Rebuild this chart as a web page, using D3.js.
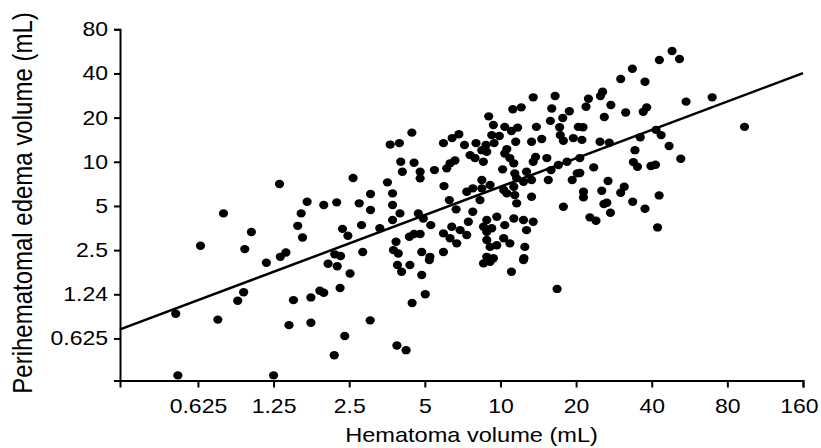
<!DOCTYPE html>
<html>
<head>
<meta charset="utf-8">
<script src="https://cdn.jsdelivr.net/npm/d3@7"></script>
<style>
  body { margin: 0; background: #fff; }
  svg text { font-family: "Liberation Sans", Arial, sans-serif; fill: #000; }
</style>
</head>
<body>
<svg id="chart" width="821" height="448"></svg>
<script>
// hematoma volume (mL)
const hematoma = [
  0.51,0.52,0.64,0.79,0.75,0.90,0.95,0.96,1.02,1.17,
  1.25,1.32,1.33,1.40,1.44,1.50,1.56,1.61,1.63,1.70,
  1.76,1.76,1.91,1.98,1.98,2.06,2.24,2.19,2.31,2.23,
  2.30,2.35,2.47,2.40,2.18,2.52,2.59,
  3.89,4.04,4.36,4.86,5.02,4.45,3.03,3.87,4.21,8.56,9.09,11.06,12.35,16.8,5.21,
  13.5,16.5,11.2,12.1,16.0,18.8,8.98,17.7,15.8,9.37,
  10.4,11.7,13.9,17.2,20.4,9.23,9.90,11.06,17.3,4.44,
  6.83,6.42,5.93,3.64,3.96,7.99,8.76,7.19,11.5,13.3,
  14.6,17.8,19.5,
  48.2,51.6,42.9,33.5,30.1,37.6,25.5,25.0,22.4,21.9,
  27.5,25.9,31.5,38.2,37.0,54.8,69.6,93.6,21.3,41.6,
  43.6,36.0,24.9,27.1,21.1,46.9,52.2,34.3,33.8,35.1,
  39.7,41.4,23.5,20.7,20.7,26.8,31.1,30.1,25.3,21.4,
  21.4,42.8,33.6,25.8,26.5,37.6,27.4,22.7,24.0,42.2,
  4.01,4.53,4.07,4.79,4.79,5.46,6.11,6.30,6.59,7.57,
  7.92,8.82,8.55,10.4,10.9,11.3,10.2,11.4,12.7,13.5,
  13.8,15.3,15.9,17.0,18.4,20.2,19.3,
  3.55,5.96,7.34,7.76,8.43,8.43,9.09,10.3,10.6,11.3,11.6,12.35,13.3,15.5,
  3.04,2.74,3.04,3.72,3.72,3.98,3.72,3.31,2.80,4.71,
  4.93,5.28,6.26,6.66,8.29,7.76,7.45,8.82,9.67,10.4,
  11.6,11.4,13.3,17.8,11.3,12.35,13.5,12.7,
  2.83,3.84,3.75,3.92,4.34,4.53,4.79,4.86,5.24,5.93,
  5.93,6.40,6.30,6.70,6.91,7.34,8.56,8.82,9.23,8.82,
  9.09,9.67,10.3,10.9,8.82,9.37,12.5,12.4,
  8.43,10.6,9.43
];

// perihematomal edema volume (mL), same order
const edema = [
  0.92,0.35,2.68,4.45,0.84,1.13,1.29,2.54,3.32,2.05,
  0.35,7.05,2.25,2.41,0.77,1.14,3.66,4.45,3.05,5.34,
  1.19,0.80,1.32,1.28,5.07,2.02,1.94,2.34,2.28,5.29,
  1.38,3.49,3.13,0.65,0.48,1.73,7.75,
  1.98,1.78,1.98,1.69,1.25,1.09,0.83,0.56,0.52,2.03,2.08,1.78,2.14,1.36,2.14,
  27.5,28.1,22.8,23.5,23.1,22.1,20.4,19.9,19.0,17.8,
  17.3,17.1,17.3,17.2,17.3,15.2,15.0,16.2,15.2,15.8,
  15.4,14.5,13.4,13.1,13.4,13.4,13.0,13.0,13.7,13.7,
  14.3,13.9,14.5,
  56.9,50.2,49.4,43.1,36.7,35.1,30.0,28.1,26.9,23.7,
  24.4,20.2,21.7,23.5,21.9,25.7,27.5,17.3,17.2,16.5,
  15.2,14.7,13.7,13.5,14.1,12.8,10.5,12.0,9.95,9.25,
  9.35,9.54,9.16,10.6,8.38,7.39,6.76,6.15,6.35,6.25,
  5.72,5.90,5.34,5.15,5.26,4.78,4.49,4.18,3.96,3.57,
  10.0,9.85,8.55,8.55,7.71,8.78,9.02,9.76,10.2,11.1,
  10.6,11.7,10.0,11.4,10.6,9.76,8.88,8.34,8.55,10.0,
  10.8,10.6,8.78,9.50,10.0,8.34,7.51,
  7.24,6.83,6.25,6.59,7.51,6.59,6.94,6.42,6.09,6.76,7.71,7.31,7.51,7.51,
  6.03,5.21,4.69,6.09,5.07,4.45,4.01,3.52,3.70,4.45,
  4.11,3.70,5.48,4.74,5.48,4.56,3.90,4.01,4.22,3.70,
  5.21,5.93,5.78,4.94,4.11,4.01,3.90,3.42,
  2.43,2.85,2.50,2.37,3.08,3.22,3.22,2.43,2.25,2.43,
  3.25,3.61,3.01,2.78,3.42,3.17,3.61,3.33,3.52,2.93,
  2.63,2.70,3.01,2.78,2.25,2.20,2.63,2.20,
  12.0,12.2,13.4
];

// regression line end points (mL)
const fitX = [0.306, 160];
const fitY = [0.72, 40.2];

const xTicks = [0.625, 1.25, 2.5, 5, 10, 20, 40, 80, 160];
const xTickLabels = ["0.625", "1.25", "2.5", "5", "10", "20", "40", "80", "160"];
const yTicks = [0.625, 1.25, 2.5, 5, 10, 20, 40, 80];
const yTickLabels = ["0.625", "1.24", "2.5", "5", "10", "20", "40", "80"];

const svg = d3.select("#chart");
const stretch = 1.15; // the source figure is a bit wider than tall

const x = d3.scaleLog().domain([0.306, 160]).range([120, 803]);
const y = d3.scaleLog().domain([0.323, 80]).range([380.5, 29.3]);

// axes
const xAxis = svg.append("g")
  .attr("transform", "translate(0,380.5)")
  .call(d3.axisBottom(x).tickValues(xTicks)
    .tickFormat((d, i) => xTickLabels[i])
    .tickSizeOuter(0).tickSize(7).tickPadding(11));

const yAxis = svg.append("g")
  .attr("transform", "translate(120,0)")
  .call(d3.axisLeft(y).tickValues(yTicks)
    .tickFormat((d, i) => yTickLabels[i])
    .tickSizeOuter(0).tickSize(6).tickPadding(6));

[xAxis, yAxis].forEach(g => {
  g.select(".domain").attr("stroke", "#000").attr("stroke-width", 2);
  g.selectAll(".tick line").attr("stroke", "#000").attr("stroke-width", 2);
  g.selectAll(".tick text")
    .style("font-family", '"Liberation Sans", Arial, sans-serif')
    .style("font-size", "20px")
    .attr("fill", "#000")
    .attr("transform", `scale(${stretch},1)`);
});
yAxis.selectAll(".tick text").attr("x", -12 / stretch);

// last x label sits a little left so it stays inside the figure
xAxis.selectAll(".tick text")
  .filter(d => d === 160)
  .attr("text-anchor", "end")
  .attr("x", 15 / stretch);

// points
svg.append("g")
  .selectAll("ellipse")
  .data(hematoma.map((h, i) => [h, edema[i]]))
  .join("ellipse")
  .attr("cx", d => x(d[0]))
  .attr("cy", d => y(d[1]))
  .attr("rx", 4.6)
  .attr("ry", 4.2)
  .attr("fill", "#000");

// regression line
svg.append("line")
  .attr("x1", x(fitX[0]))
  .attr("y1", y(fitY[0]))
  .attr("x2", x(fitX[1]))
  .attr("y2", y(fitY[1]))
  .attr("stroke", "#000")
  .attr("stroke-width", 2.5);

// axis titles
svg.append("text")
  .attr("transform", `translate(471.5,442) scale(${stretch},1)`)
  .attr("text-anchor", "middle")
  .style("font-size", "20.5px")
  .text("Hematoma volume (mL)");

svg.append("text")
  .attr("transform", `translate(32,203) scale(${stretch},1) rotate(-90)`)
  .attr("text-anchor", "middle")
  .style("font-size", "24px")
  .text("Perihematomal edema volume (mL)");
</script>
</body>
</html>
